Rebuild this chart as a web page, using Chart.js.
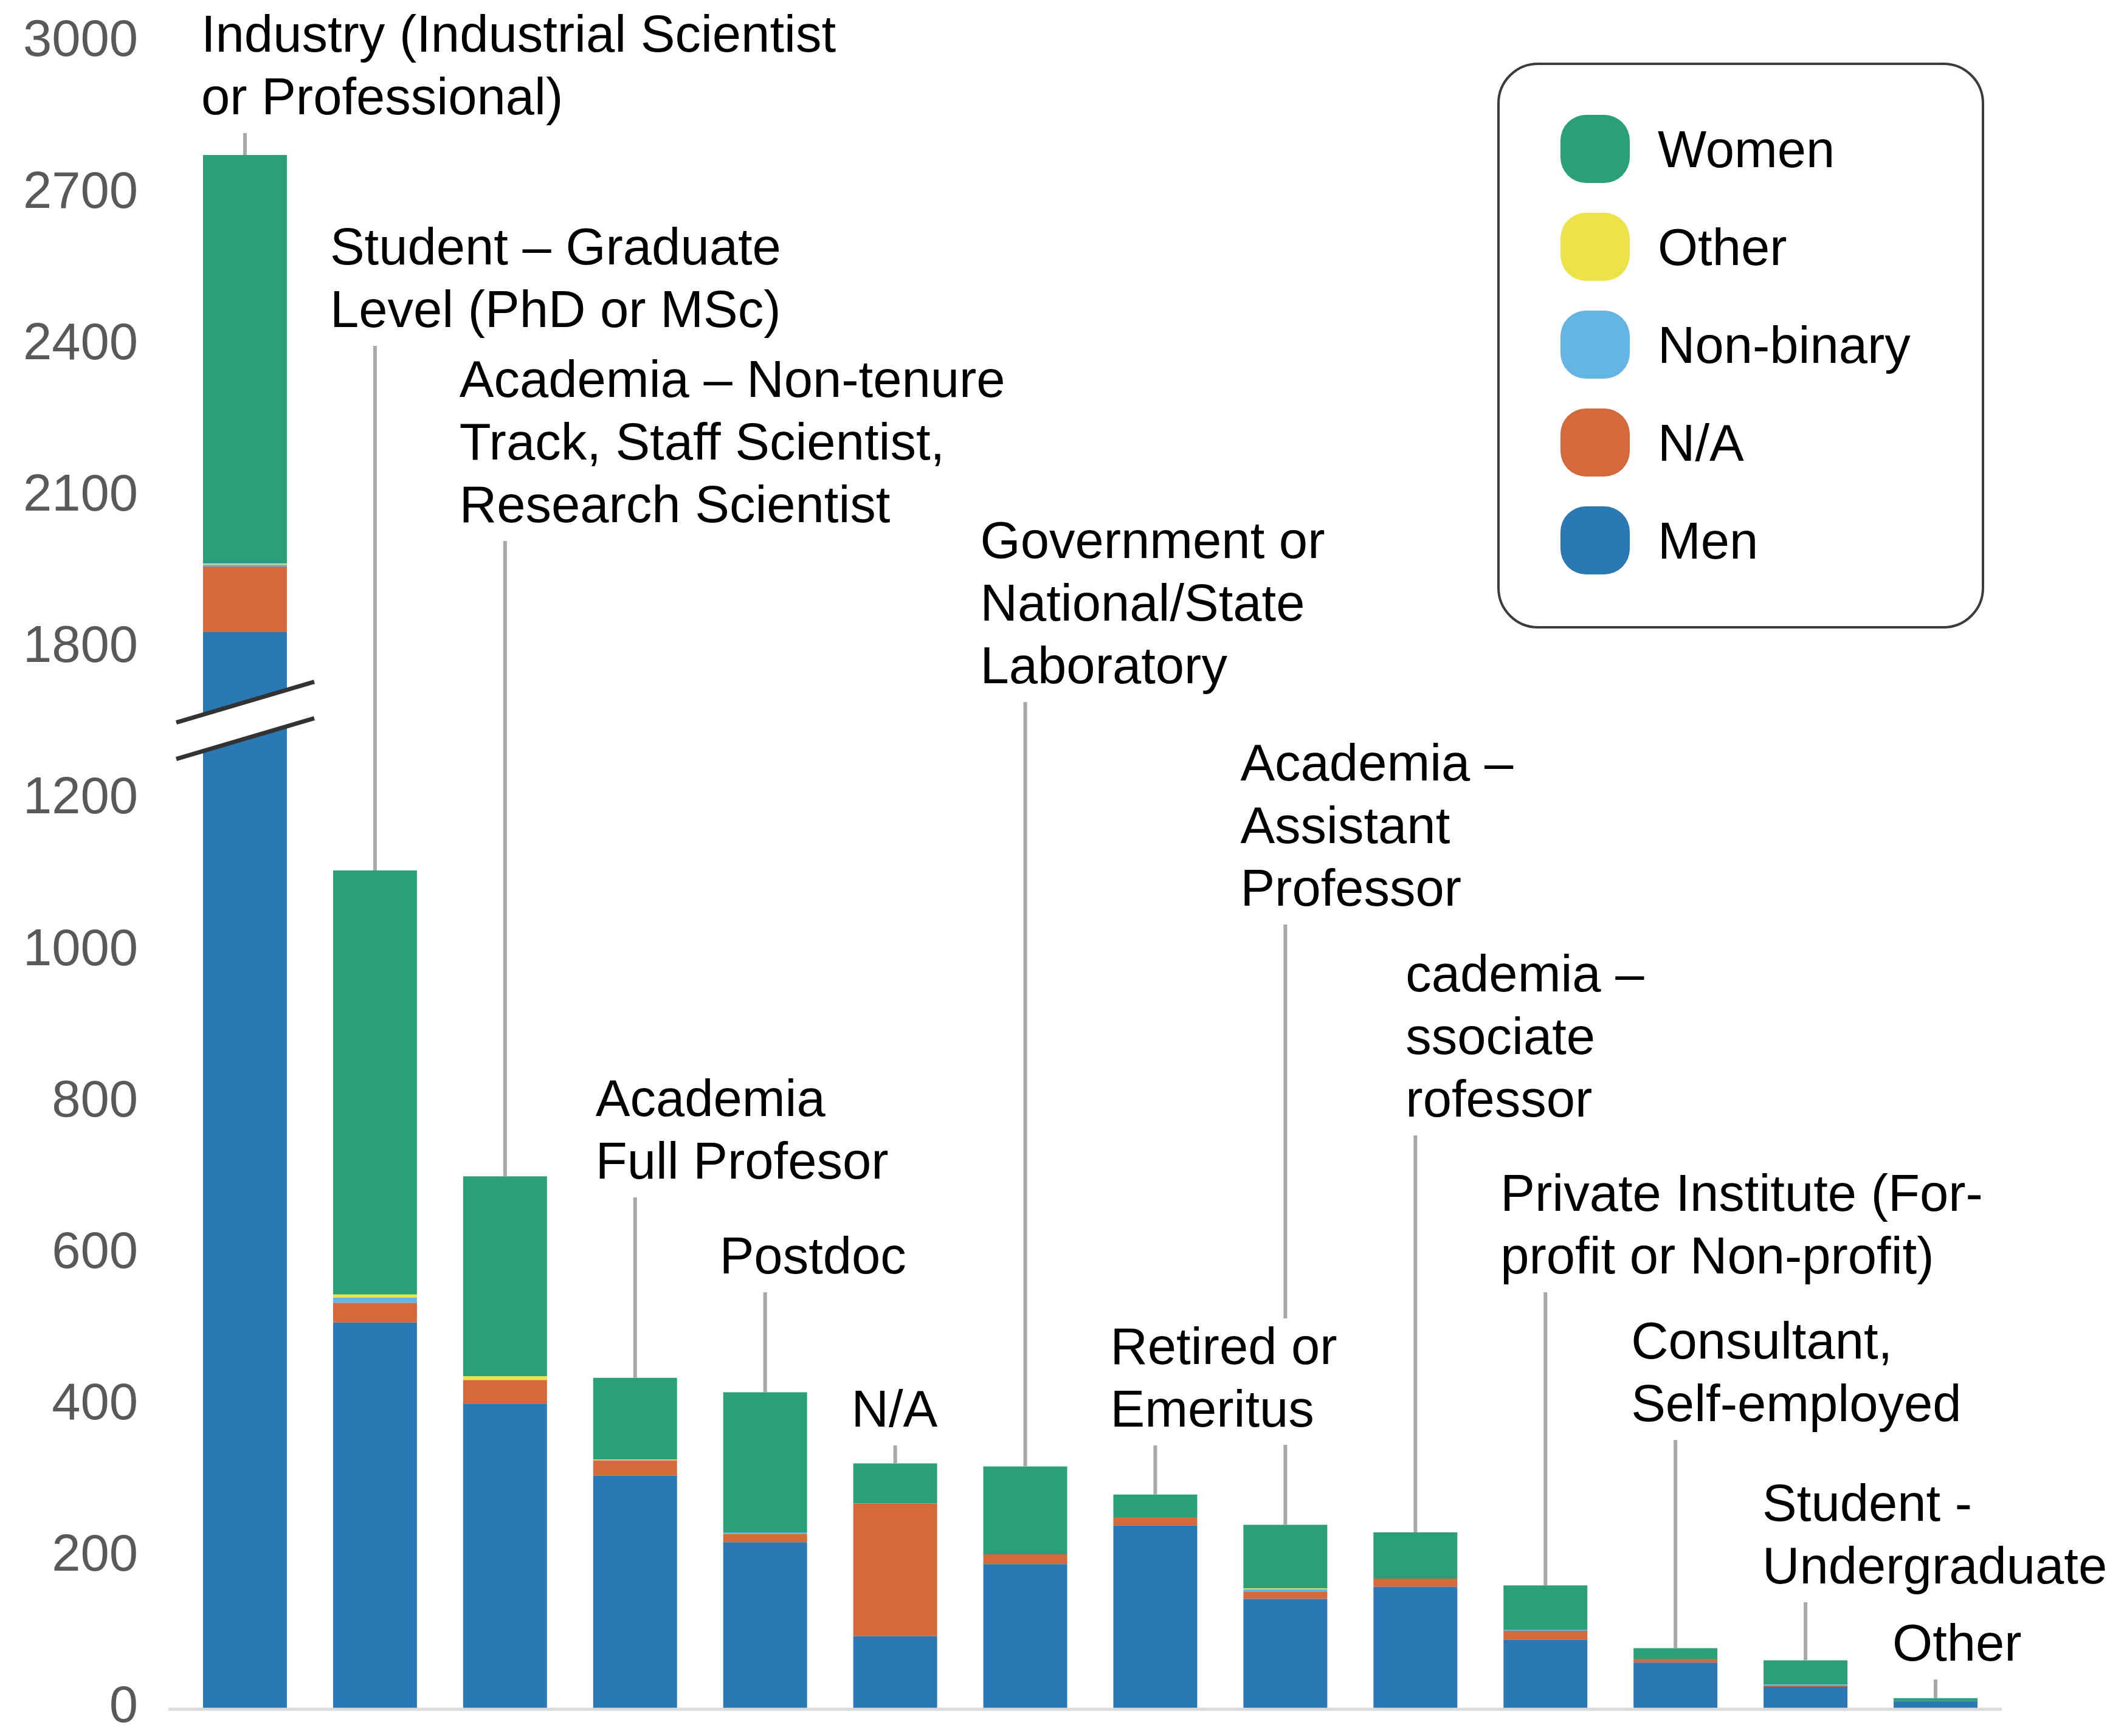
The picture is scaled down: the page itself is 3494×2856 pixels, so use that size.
<!DOCTYPE html>
<html><head><meta charset="utf-8">
<script src="https://cdn.jsdelivr.net/npm/chart.js@4.4.1/dist/chart.umd.min.js"></script>
<style>html,body{margin:0;padding:0;background:#fff;overflow:hidden}#wrap{width:3494px;height:2856px;position:relative}</style>
</head><body><div id="wrap"><canvas id="c"></canvas></div>
<script>
// ---- data ----
const categories = [
  ["Industry (Industrial Scientist", "or Professional)"],
  ["Student – Graduate", "Level (PhD or MSc)"],
  ["Academia – Non-tenure", "Track, Staff Scientist,", "Research Scientist"],
  ["Academia", "Full Profesor"],
  ["Postdoc"],
  ["N/A"],
  ["Government or", "National/State", "Laboratory"],
  ["Retired or", "Emeritus"],
  ["Academia –", "Assistant", "Professor"],
  ["cademia –", "ssociate", "rofessor"],
  ["Private Institute (For-", "profit or Non-profit)"],
  ["Consultant,", "Self-employed"],
  ["Student -", "Undergraduate"],
  ["Other"]
];
const men       = [1831, 509, 402, 307, 219,  95, 190, 241, 144, 160, 90, 60, 28, 9];
const na        = [ 130,  26,  31,  20,  11, 175,  13,  11,  10,  11, 12,  5,  2, 0];
const nonBinary = [   4,   7,   0,   0,   2,   0,   0,   0,   3,   0,  1,  0,  1, 0];
const other     = [   2,   4,   5,   1,   0,   0,   0,   0,   1,   0,  0,  0,  0, 0];
const women     = [ 809, 560, 264, 108, 185,  53, 116,  30,  84,  61, 59, 14, 32, 4];
const tickLabels = ["0","200","400","600","800","1000","1200","1800","2100","2400","2700","3000"];
const seriesNames = ["Men", "N/A", "Non-binary", "Other", "Women"];

// ---- styling / layout ----
const seriesColors = ["#2a78b4", "#d4693c", "#64b4e4", "#ede24a", "#2aa078"];
const labelBaseline = [85, 435, 653, 1836, 2095, 2347, 918, 2244, 1284, 1631, 1992, 2235, 2502, 2732];
const labelDx = [-72, -74, -75, -65, -75, -72, -74, -74, -74, -16, -74, -73, -71, -71];
const FONT = "'Liberation Sans', Arial, Helvetica, sans-serif";
const LINE_H = 103;

// broken axis: 0..1200 step 200, then 1800..3000 step 300
function toDisplay(v) {
  if (v <= 1200) return v / 200;
  if (v >= 1800) return 7 + (v - 1800) / 300;
  return 6 + (v - 1200) / 600;
}

const stacks = [men, na, nonBinary, other, women];
const cum = categories.map(() => 0);
const datasets = stacks.map((arr, k) => {
  const data = arr.map((v, i) => {
    const lo = cum[i], hi = lo + v; cum[i] = hi;
    return [toDisplay(lo), toDisplay(hi)];
  });
  return {
    label: seriesNames[k], data, backgroundColor: seriesColors[k],
    borderWidth: 0, grouped: false, barPercentage: 0.645, categoryPercentage: 1
  };
});

const overlay = {
  id: 'overlay',
  afterDatasetsDraw(chart) {
    const ctx = chart.ctx, ys = chart.scales.y, xs = chart.scales.x, ca = chart.chartArea;
    ctx.save();
    // baseline
    const y0 = ys.getPixelForValue(0);
    ctx.strokeStyle = '#dadada'; ctx.lineWidth = 5;
    ctx.beginPath(); ctx.moveTo(ca.left - 19, y0 + 2); ctx.lineTo(ca.right + 2, y0 + 2); ctx.stroke();

    // axis break on first bar
    const cx = xs.getPixelForValue(0);
    const yc = ys.getPixelForValue(6.52);
    const x1 = cx - 113, x2 = cx + 114;
    const slope = -67 / 227, half = 30;
    const yAt = (x, off) => yc + off + (x - cx) * slope;
    ctx.fillStyle = '#ffffff';
    ctx.beginPath();
    ctx.moveTo(x1, yAt(x1, -half)); ctx.lineTo(x2, yAt(x2, -half));
    ctx.lineTo(x2, yAt(x2, half)); ctx.lineTo(x1, yAt(x1, half)); ctx.closePath(); ctx.fill();
    ctx.strokeStyle = '#333333'; ctx.lineWidth = 7; ctx.lineCap = 'butt';
    [-half, half].forEach(off => {
      ctx.beginPath(); ctx.moveTo(x1, yAt(x1, off)); ctx.lineTo(x2, yAt(x2, off)); ctx.stroke();
    });

    // leaders
    ctx.font = `85px ${FONT}`;
    const tops = categories.map((_, i) => {
      let t = Infinity;
      chart.getSortedVisibleDatasetMetas().forEach(m => { const el = m.data[i]; if (el) t = Math.min(t, el.y, el.base); });
      return t;
    });
    ctx.strokeStyle = '#a8a8a8'; ctx.lineWidth = 6;
    categories.forEach((lines, i) => {
      const bx = xs.getPixelForValue(i);
      const lt = labelBaseline[i] + (lines.length - 1) * LINE_H + 31;
      ctx.beginPath(); ctx.moveTo(bx, lt); ctx.lineTo(bx, tops[i]); ctx.stroke();
    });
    // label boxes and text
    categories.forEach((lines, i) => {
      const bx = xs.getPixelForValue(i) + labelDx[i];
      const w = Math.max(...lines.map(l => ctx.measureText(l).width));
      const top = labelBaseline[i] - 75, bot = labelBaseline[i] + (lines.length - 1) * LINE_H + 30;
      ctx.fillStyle = '#ffffff';
      ctx.fillRect(bx - 4, top, w + 8, bot - top);
      ctx.fillStyle = '#000000'; ctx.textAlign = 'left'; ctx.textBaseline = 'alphabetic';
      lines.forEach((l, j) => ctx.fillText(l, bx, labelBaseline[i] + j * LINE_H));
    });

    // legend
    const L = {x: 2465, y: 105, w: 797, h: 927, r: 65};
    ctx.fillStyle = '#ffffff'; ctx.strokeStyle = '#3c3c3c'; ctx.lineWidth = 4;
    ctx.beginPath(); ctx.roundRect(L.x, L.y, L.w, L.h, L.r); ctx.fill(); ctx.stroke();
    const order = chart.data.datasets.slice().reverse();
    order.forEach((ds, k) => {
      const cy = 245 + k * 161;
      ctx.fillStyle = ds.backgroundColor;
      ctx.beginPath(); ctx.roundRect(2567, cy - 56, 114, 112, 42); ctx.fill();
      ctx.fillStyle = '#000000'; ctx.textAlign = 'left'; ctx.textBaseline = 'alphabetic';
      ctx.fillText(ds.label, 2727, cy + 30);
    });
    ctx.restore();
  }
};

Chart.defaults.font.family = FONT;
new Chart(document.getElementById('c'), {
  type: 'bar',
  data: { labels: categories.map(c => c.join(' ')), datasets },
  options: {
    responsive: true, maintainAspectRatio: false, animation: false, devicePixelRatio: 1,
    layout: { padding: { left: 0, right: 203, top: 69, bottom: 46 } },
    plugins: { legend: { display: false }, tooltip: { enabled: false } },
    scales: {
      x: { display: false },
      y: {
        position: 'left', weight: 10,
        min: 0, max: 11,
        grid: { display: false, drawTicks: false }, border: { display: false },
        ticks: {
          stepSize: 1, autoSkip: false, padding: 0, color: '#58595b',
          font: { size: 85, family: FONT, lineHeight: 1 },
          callback: (v) => tickLabels[v]
        },
        afterFit: (s) => { s.width = 227; }
      },
      gap: {
        type: 'linear', position: 'left', weight: 0, display: true, min: 0, max: 1,
        grid: { display: false, drawTicks: false }, border: { display: false },
        ticks: { display: false },
        afterFit: (s) => { s.width = 69; }
      }
    }
  },
  plugins: [overlay]
});
</script></body></html>
